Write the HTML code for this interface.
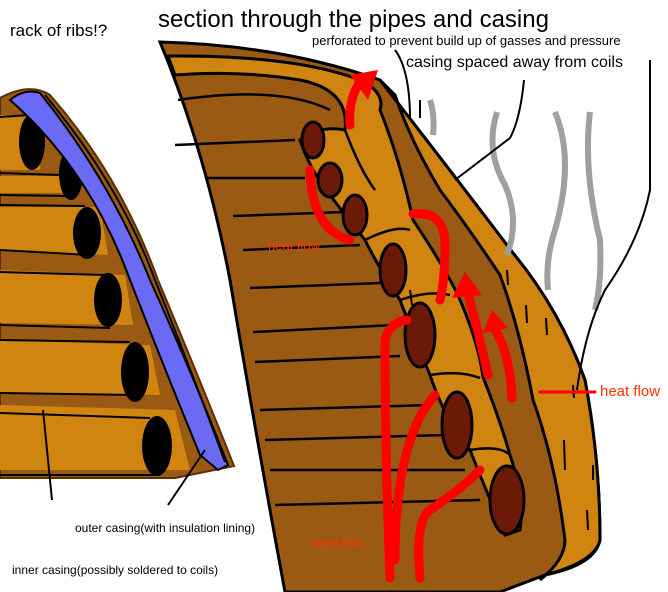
<!DOCTYPE html>
<html><head><meta charset="utf-8"><style>
html,body{margin:0;padding:0;background:#fff;}
svg{display:block;}
text{font-family:"Liberation Sans",Arial,sans-serif;}
</style></head><body>
<svg width="668" height="592" viewBox="0 0 668 592" xmlns="http://www.w3.org/2000/svg">
<rect width="668" height="592" fill="#fff"/>
<!-- left rack -->
<path d="M0,98 Q30,82 50,95 Q120,175 158,280 Q200,380 234,466 L175,478 L0,478 Z" fill="#9a5a14" stroke="#5a3000" stroke-width="2"/>
<g fill="#d08510">
<path d="M0,115 L40,115 L40,170 L0,170 Z"/>
<path d="M0,176 L70,176 L70,193 L0,193 Z"/>
<path d="M0,207 L100,207 L108,255 L0,250 Z"/>
<path d="M0,270 L125,275 L133,325 L0,323 Z"/>
<path d="M0,340 L150,345 L160,395 L0,392 Z"/>
<path d="M0,405 L175,410 L190,470 L0,470 Z"/>
</g>
<g stroke="#000" stroke-width="2" fill="none">
<path d="M0,117 L30,115"/><path d="M0,173 L60,175"/><path d="M0,195 L70,196"/>
<path d="M0,205 L85,206"/><path d="M0,250 L90,255"/><path d="M0,272 L105,275"/>
<path d="M0,325 L110,328"/><path d="M0,340 L130,342"/><path d="M0,393 L135,395"/>
<path d="M0,413 L150,418"/><path d="M0,475 L160,475"/>
<path d="M43,410 L52,500"/>
</g>
<g fill="#000">
<ellipse cx="32" cy="142" rx="13" ry="28"/><ellipse cx="71" cy="174" rx="12" ry="26"/>
<ellipse cx="87" cy="233" rx="14" ry="26"/><ellipse cx="108" cy="300" rx="14" ry="27"/>
<ellipse cx="135" cy="372" rx="14" ry="30"/><ellipse cx="157" cy="446" rx="15" ry="30"/>
</g>
<path d="M10,100 Q25,88 40,93 Q110,180 150,280 Q195,380 228,465 L218,470 L200,455 Q165,370 130,280 Q90,170 10,100 Z" fill="#6a6af5" stroke="#000" stroke-width="2"/>
<path d="M45,95 Q120,185 155,280 Q195,380 225,462" stroke="#000" stroke-width="2" fill="none"/>
<path d="M205,450 L168,505" stroke="#000" stroke-width="2"/>
<!-- big section -->
<path d="M160,42 Q280,45 380,80 Q450,170 513,253 Q560,310 585,380 Q600,460 600,540 Q595,565 545,575 L500,592 L285,592 Q255,430 230,280 Q205,150 160,42 Z" fill="#9a5a14" stroke="#000" stroke-width="3"/>
<path d="M380,80 Q450,170 513,253 Q560,310 585,380 Q600,460 600,540 Q595,562 545,575 L540,580 Q565,560 565,540 Q555,460 533,400 Q520,330 500,275 Q470,230 440,190 Q410,140 395,95 Z" fill="#d08510" stroke="#000" stroke-width="3"/>
<path d="M168,56 Q300,55 365,82 Q385,95 380,110 Q400,160 413,220 Q440,260 457,293 Q478,340 483,377 Q500,420 510,455 Q525,500 520,530 L505,535 Q490,500 478,470 L470,450 Q445,420 430,375 Q415,340 400,300 Q380,270 365,240 Q345,215 330,195 Q310,170 300,140 Q320,125 345,130 Q350,90 300,80 Q240,70 175,75 Z" fill="#d08510" stroke="#000" stroke-width="3"/>
<g stroke="#000" stroke-width="2.5" fill="none">
<path d="M178,100 Q280,85 330,110"/>
<path d="M345,130 Q360,170 375,190"/><path d="M365,240 Q395,225 410,230"/>
<path d="M400,300 Q430,290 450,295"/><path d="M430,375 Q460,370 480,378"/>
<path d="M470,450 Q500,445 510,455"/>
<path d="M175,145 L295,140"/><path d="M207,178 L305,178"/><path d="M233,216 L345,212"/>
<path d="M243,250 L360,245"/><path d="M250,288 L380,283"/><path d="M253,332 L395,325"/>
<path d="M255,362 L400,356"/><path d="M260,410 L430,405"/><path d="M265,440 L445,435"/>
<path d="M270,470 L465,470"/><path d="M275,505 L480,500"/>
</g>
<g stroke="#000" stroke-width="2">
<path d="M410,290 L412,305"/><path d="M507,270 L508,285"/><path d="M526,305 L527,323"/>
<path d="M546,318 L547,335"/><path d="M573,385 L574,398"/><path d="M564,440 L565,470"/>
<path d="M593,465 L593,480"/><path d="M587,510 L588,530"/><path d="M420,100 L420,118"/>
</g>
<g fill="#6b1a08" stroke="#000" stroke-width="3">
<ellipse cx="313" cy="140" rx="11" ry="18"/><ellipse cx="330" cy="180" rx="12" ry="17"/>
<ellipse cx="355" cy="215" rx="12" ry="20"/><ellipse cx="393" cy="270" rx="13" ry="26"/>
<ellipse cx="420" cy="335" rx="15" ry="32"/><ellipse cx="457" cy="425" rx="15" ry="33"/>
<ellipse cx="507" cy="500" rx="17" ry="34"/>
</g>
<g stroke="#a0a0a0" stroke-width="6" fill="none">
<path d="M430,100 Q435,115 433,135"/>
<path d="M497,112 Q485,150 505,185 Q520,220 507,255"/>
<path d="M555,112 Q575,160 555,230 Q545,260 548,290"/>
<path d="M590,112 Q583,170 600,240 Q602,280 595,310"/>
</g>
<g stroke="#000" stroke-width="2" fill="none">
<path d="M395,50 Q410,70 410,120"/>
<path d="M524,80 Q520,120 510,138 L455,180"/>
<path d="M650,60 L650,190 Q640,240 605,290 Q585,330 577,390"/>
</g>
<g stroke="#ff0000" stroke-width="9" fill="none" stroke-linecap="round">
<path d="M350,125 Q348,100 360,82"/>
<path d="M310,170 Q312,230 350,240"/>
<path d="M413,214 Q445,210 445,245 Q445,280 440,300"/>
<path d="M488,375 Q478,330 467,290"/>
<path d="M512,398 Q510,350 492,325"/>
<path d="M390,578 Q385,450 385,340 Q390,322 407,320"/>
<path d="M395,560 Q395,440 435,395"/>
<path d="M420,578 Q415,520 430,510 Q460,490 480,470"/>
<path d="M540,392 L595,392" stroke-width="3"/>
</g>
<g fill="#ff0000">
<polygon points="350,75 378,70 368,100"/><polygon points="452,298 465,272 482,295"/>
<polygon points="483,333 492,310 508,328"/>
</g>
<text x="10" y="36" font-size="17">rack of ribs!?</text>
<text x="158" y="27" font-size="24">section through the pipes and casing</text>
<text x="312" y="45" font-size="13">perforated to prevent build up of gasses and pressure</text>
<text x="406" y="67" font-size="16">casing spaced away from coils</text>
<text x="268" y="250" font-size="13" fill="#ff3300">heat flow</text>
<text x="600" y="396" font-size="15" fill="#ff3300">heat flow</text>
<text x="313" y="547" font-size="13" fill="#ff3300">heat flow</text>
<text x="75" y="532" font-size="12">outer casing(with insulation lining)</text>
<text x="12" y="574" font-size="12">inner casing(possibly soldered to coils)</text>
</svg>
</body></html>
